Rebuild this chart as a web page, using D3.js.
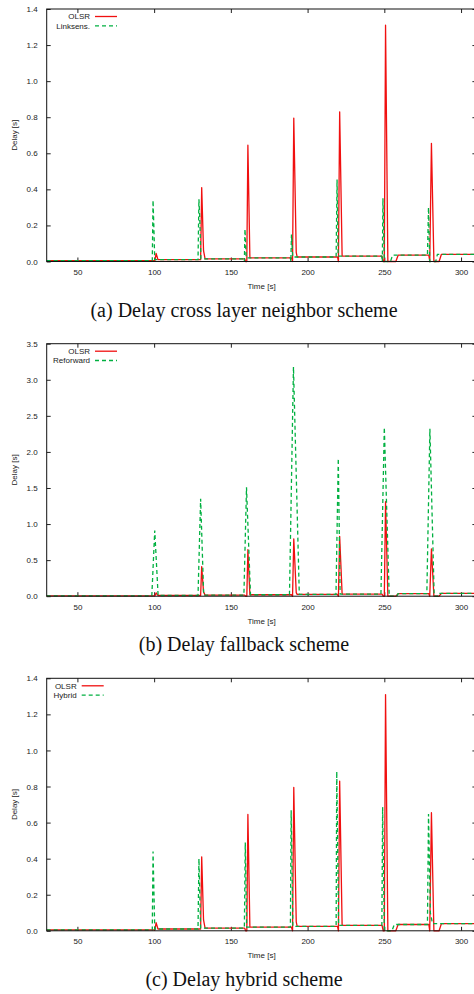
<!DOCTYPE html>
<html>
<head>
<meta charset="utf-8">
<script src="https://cdn.jsdelivr.net/npm/d3@7"></script>
<style>
  body { margin: 0; background: #fff; }
  svg { display: block; }
  text { font-family: "Liberation Sans", Arial, sans-serif; font-size: 8px; fill: #222; }
  .caption { font-family: "Liberation Serif", "Times New Roman", serif; font-size: 20px; fill: #111; }
</style>
</head>
<body>
<svg width="474" height="994"></svg>
<script>
// tick values
const timeTicks = [50, 100, 150, 200, 250, 300];
const delayTicksA = [0, 0.2, 0.4, 0.6, 0.8, 1, 1.2, 1.4];
const delayTicksB = [0, 0.5, 1, 1.5, 2, 2.5, 3, 3.5];

// [time (s), delay (s)]
const olsr = [
  [30, 0.005], [100.5, 0.005], [101.3, 0.045], [102.5, 0.01],
  [130.3, 0.01], [131, 0.41], [132.2, 0.06], [133.2, 0.015],
  [159, 0.015], [159.6, 0], [160.4, 0], [161.1, 0.645], [162.4, 0.02],
  [189.5, 0.02], [190.2, 0], [191, 0.795], [192.6, 0.05], [193.2, 0.025],
  [219.5, 0.025], [220.1, 0], [220.9, 0.83], [222.5, 0.03],
  [248.5, 0.03], [249.3, 0], [250, 0], [250.8, 1.31], [252.3, 0],
  [257.5, 0], [259, 0.035],
  [279, 0.035], [279.6, 0], [280.7, 0.655], [282.3, 0],
  [285.7, 0], [287.2, 0.04], [310, 0.04]
];

const linksens = [
  [30, 0.005], [98.8, 0.005], [99.3, 0.34], [99.8, 0.2], [100.4, 0.01],
  [128.6, 0.01], [129.2, 0.345], [129.7, 0.25], [130.5, 0.015],
  [158.4, 0.015], [158.8, 0], [159.2, 0.18], [160, 0.02],
  [188.8, 0.02], [189.1, 0], [189.5, 0.15], [190.3, 0.025],
  [218.6, 0.025], [219.2, 0.455], [219.9, 0.03],
  [248.3, 0.03], [248.7, 0], [249.1, 0.35], [250, 0],
  [254, 0], [255.4, 0.035],
  [278.1, 0.035], [278.8, 0.3], [279.6, 0],
  [283.5, 0], [284.6, 0.04], [310, 0.04]
];

const reforward = [
  [30, 0.005], [98.5, 0.005], [100.4, 0.91], [102.6, 0.01],
  [128.6, 0.01], [130.3, 1.35], [132.3, 0.015],
  [158.5, 0.015], [160.2, 1.51], [162.8, 0.02],
  [188.2, 0.02], [190.8, 3.18], [194.6, 0.025],
  [218.5, 0.025], [220, 1.91], [221.2, 0.03],
  [247.8, 0.03], [250, 2.34], [253.2, 0],
  [258, 0], [259, 0.035],
  [277.7, 0.035], [279.7, 2.32], [282.5, 0],
  [285, 0], [285.7, 0.04], [310, 0.04]
];

const hybrid = [
  [30, 0.005], [98.8, 0.005], [99.3, 0.44], [100.4, 0.01],
  [128.6, 0.01], [129.2, 0.40], [130.3, 0.015],
  [158.8, 0.015], [159.4, 0.49], [160.3, 0.02],
  [188.8, 0.02], [189.3, 0.668], [190.4, 0.025],
  [218.6, 0.025], [219, 0.883], [220.2, 0.03],
  [248.4, 0.03], [248.9, 0.686], [250, 0],
  [255, 0], [256.5, 0.035],
  [278.1, 0.035], [278.8, 0.647], [280, 0.1], [281.4, 0.04], [310, 0.04]
];

const panels = [
  { top: 9, yMax: 1.4, ticks: delayTicksA, other: linksens, otherName: "Linksens.",
    keyX: 90, caption: "(a) Delay cross layer neighbor scheme" },
  { top: 343.7, yMax: 3.5, ticks: delayTicksB, other: reforward, otherName: "Reforward",
    keyX: 90, caption: "(b) Delay fallback scheme" },
  { top: 678.3, yMax: 1.4, ticks: delayTicksA, other: hybrid, otherName: "Hybrid",
    keyX: 76.7, caption: "(c) Delay hybrid scheme" }
];

const left = 46.7, right = 476.4, plotH = 252.5;
const red = "#f01010", green = "#00b040";

const svg = d3.select("svg");

panels.forEach(function(p) {
  const bottom = p.top + plotH;
  const x = d3.scaleLinear().domain([30, 310]).range([left, right]);
  const y = d3.scaleLinear().domain([0, p.yMax]).range([bottom, p.top]);

  const g = svg.append("g");

  // ticks, mirrored on all four sides
  const xAxisB = d3.axisBottom(x).tickValues(timeTicks).tickSizeInner(-4).tickSizeOuter(0).tickPadding(8);
  const xAxisT = d3.axisTop(x).tickValues(timeTicks).tickSizeInner(-4).tickSizeOuter(0).tickFormat("");
  const yAxisL = d3.axisLeft(y).tickValues(p.ticks).tickSizeInner(-4).tickSizeOuter(0).tickPadding(9);
  const yAxisR = d3.axisRight(y).tickValues(p.ticks).tickSizeInner(-4).tickSizeOuter(0).tickFormat("");

  g.append("g").attr("transform", "translate(0," + bottom + ")").call(xAxisB);
  g.append("g").attr("transform", "translate(0," + p.top + ")").call(xAxisT);
  g.append("g").attr("transform", "translate(" + left + ",0)").call(yAxisL);
  g.append("g").attr("transform", "translate(" + right + ",0)").call(yAxisR);
  g.selectAll(".domain").remove();
  g.selectAll(".tick line").attr("stroke", "#222");
  g.selectAll(".tick text").attr("font-size", 8).attr("font-family", null).attr("fill", "#222");

  const line = d3.line().x(d => x(d[0])).y(d => y(d[1]));

  g.append("path").datum(olsr)
    .attr("d", line).attr("fill", "none")
    .attr("stroke", red).attr("stroke-width", 1.3).attr("stroke-linejoin", "round");
  g.append("path").datum(p.other)
    .attr("d", line).attr("fill", "none")
    .attr("stroke", green).attr("stroke-width", 1.3).attr("stroke-dasharray", "4,3");

  // frame
  g.append("rect")
    .attr("x", left).attr("y", p.top)
    .attr("width", right - left).attr("height", plotH)
    .attr("fill", "none").attr("stroke", "#111").attr("stroke-width", 1);

  // key
  const key = [
    { name: "OLSR", color: red, dash: null },
    { name: p.otherName, color: green, dash: "4,3" }
  ];
  key.forEach(function(k, i) {
    const ky = p.top + 7.5 + i * 9.3;
    g.append("text").attr("x", p.keyX).attr("y", ky).attr("dy", "0.35em")
      .attr("text-anchor", "end").text(k.name);
    g.append("line")
      .attr("x1", p.keyX + 5).attr("x2", p.keyX + 27)
      .attr("y1", ky).attr("y2", ky)
      .attr("stroke", k.color).attr("stroke-width", 1.3)
      .attr("stroke-dasharray", k.dash);
  });

  // axis titles
  g.append("text").attr("x", (left + right) / 2).attr("y", bottom + 27.5)
    .attr("text-anchor", "middle").text("Time [s]");
  g.append("text")
    .attr("transform", "translate(17," + (p.top + plotH / 2) + ") rotate(-90)")
    .attr("text-anchor", "middle").text("Delay [s]");

  g.append("text").attr("class", "caption")
    .attr("x", 244).attr("y", bottom + 55)
    .attr("text-anchor", "middle").text(p.caption);
});
</script>
</body>
</html>
